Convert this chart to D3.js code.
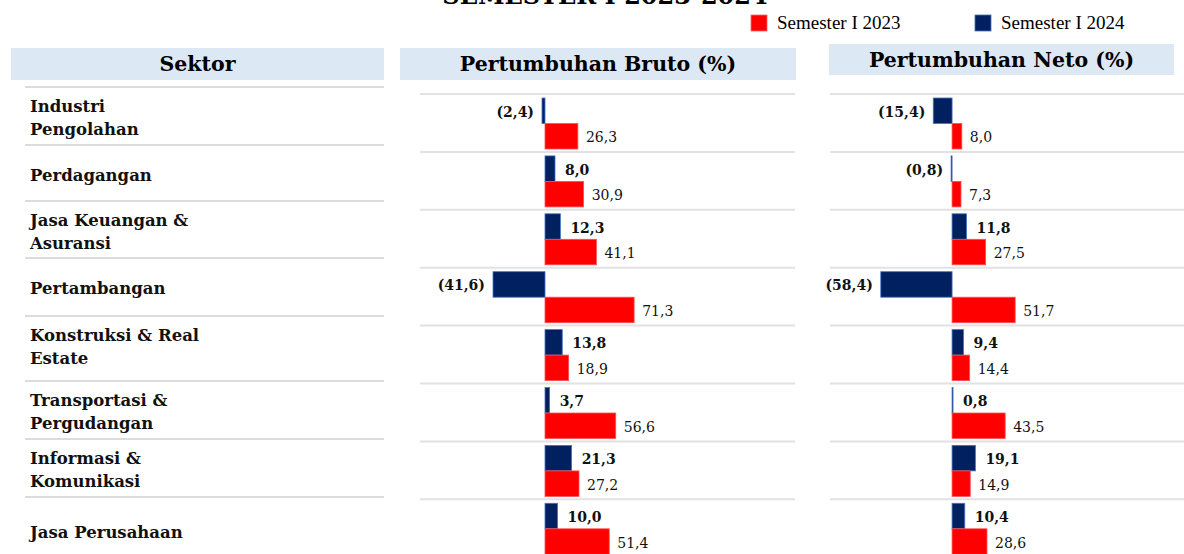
<!DOCTYPE html>
<html>
<head>
<meta charset="utf-8">
<script src="https://cdn.jsdelivr.net/npm/d3@7"></script>
<style>
  body { margin: 0; background: #fff; }
  svg { display: block; }
</style>
</head>
<body>
<svg></svg>
<script>
// data
const sectors = ["Industri Pengolahan", "Perdagangan", "Jasa Keuangan & Asuransi", "Pertambangan",
    "Konstruksi & Real Estate", "Transportasi & Pergudangan", "Informasi & Komunikasi", "Jasa Perusahaan"];
const sectorLabelLines = [["Industri", "Pengolahan"], ["Perdagangan"], ["Jasa Keuangan &", "Asuransi"], ["Pertambangan"],
    ["Konstruksi & Real", "Estate"], ["Transportasi &", "Pergudangan"], ["Informasi &", "Komunikasi"], ["Jasa Perusahaan"]];
const series = ["Semester I 2024", "Semester I 2023"];
const brutoS1_2023 = [26.3, 30.9, 41.1, 71.3, 18.9, 56.6, 27.2, 51.4];
const brutoS1_2024 = [-2.4, 8.0, 12.3, -41.6, 13.8, 3.7, 21.3, 10.0];
const netoS1_2023 = [8.0, 7.3, 27.5, 51.7, 14.4, 43.5, 14.9, 28.6];
const netoS1_2024 = [-15.4, -0.8, 11.8, -58.4, 9.4, 0.8, 19.1, 10.4];

const W = 1184, H = 554;
const RED = "#ff0000", NAVY = "#002060";
const serif = "Georgia, 'DejaVu Serif', serif";

const svg = d3.select("svg").attr("width", W).attr("height", H);

// judul (terpotong di atas)
svg.append("text")
    .attr("x", 605).attr("y", 4)
    .attr("text-anchor", "middle")
    .attr("font-family", serif).attr("font-weight", "bold").attr("font-size", 24)
    .text("SEMESTER I 2023-2024");

// legenda
const legend = [{ name: "Semester I 2023", color: RED, x: 751 }, { name: "Semester I 2024", color: NAVY, x: 975 }];
const lg = svg.selectAll("g.legend").data(legend).join("g")
    .attr("class", "legend")
    .attr("transform", d => `translate(${d.x},15)`);
lg.append("rect").attr("width", 16).attr("height", 16).attr("fill", d => d.color)
    .attr("stroke", d => d.color === NAVY ? "#4472c4" : "#ff6666").attr("stroke-width", 0.8);
lg.append("text").attr("x", 26).attr("y", 14)
    .attr("font-family", "'Liberation Serif', serif").attr("font-size", 19)
    .text(d => d.name);

// header
const headers = [
    { text: "Sektor", x: 11, y: 48, w: 373, h: 32 },
    { text: "Pertumbuhan Bruto (%)", x: 400, y: 48, w: 396, h: 32 },
    { text: "Pertumbuhan Neto (%)", x: 829, y: 44, w: 345, h: 31 }
];
const hg = svg.selectAll("g.header").data(headers).join("g").attr("class", "header");
hg.append("rect").attr("x", d => d.x).attr("y", d => d.y).attr("width", d => d.w).attr("height", d => d.h)
    .attr("fill", "#dde8f5");
hg.append("text")
    .attr("x", d => d.x + d.w / 2).attr("y", d => d.y + d.h / 2 + 7)
    .attr("text-anchor", "middle")
    .attr("font-family", serif).attr("font-weight", "bold").attr("font-size", 20.5)
    .text(d => d.text);

// tabel sektor di kiri
const tableLines = [87, 145, 201, 258, 316, 381, 439, 497];
svg.selectAll("line.tbl").data(tableLines).join("line")
    .attr("class", "tbl")
    .attr("x1", 25).attr("x2", 384)
    .attr("y1", d => d).attr("y2", d => d)
    .attr("stroke", "#d0d0d0").attr("stroke-width", 1.5);

const labels = svg.selectAll("text.sektor").data(sectorLabelLines).join("text")
    .attr("class", "sektor")
    .attr("font-family", serif).attr("font-weight", "bold").attr("font-size", 16.5)
    .attr("fill", "#111");
labels.selectAll("tspan").data((d, i) => d.map((t, j) => ({ t, j, i, n: d.length }))).join("tspan")
    .attr("x", 30)
    .attr("y", d => tableLines[d.i] + (d.n === 2 ? 25 + d.j * 23 : (d.i === 7 ? 41 : 36)))
    .text(d => d.t);

// format angka: koma desimal, negatif dalam kurung
const fmt = v => {
    const s = Math.abs(v).toFixed(1).replace(".", ",");
    return v < 0 ? `(${s})` : s;
};

// baris grafik
const y = d3.scaleBand().domain(sectors).range([94, 94 + 8 * 57.9]);
const ySub = d3.scaleBand().domain(series).range([4, 55]);

function drawPanel(cls, xScale, v2023, v2024) {
    const g = svg.append("g").attr("class", cls);
    const [x0, x1] = xScale.range();

    g.selectAll("line.sep").data(sectors).join("line")
        .attr("class", "sep")
        .attr("x1", x0).attr("x2", x1)
        .attr("y1", d => y(d)).attr("y2", d => y(d))
        .attr("stroke", "#e2e2e2").attr("stroke-width", 2);

    const rows = sectors.map((s, i) => [
        { sector: s, key: series[0], value: v2024[i], color: NAVY },
        { sector: s, key: series[1], value: v2023[i], color: RED }
    ]).flat();

    g.selectAll("rect.bar").data(rows).join("rect")
        .attr("class", "bar")
        .attr("x", d => xScale(Math.min(0, d.value)))
        .attr("y", d => y(d.sector) + ySub(d.key))
        .attr("width", d => Math.abs(xScale(d.value) - xScale(0)))
        .attr("height", ySub.bandwidth())
        .attr("fill", d => d.color)
        .attr("stroke", d => d.color === NAVY ? "#4472c4" : "#ff5050")
        .attr("stroke-width", 0.8);

    g.selectAll("text.val").data(rows).join("text")
        .attr("class", "val")
        .attr("x", d => d.value < 0 ? xScale(d.value) - 8 : xScale(d.value) + (d.color === NAVY ? 10 : 8))
        .attr("y", d => y(d.sector) + ySub(d.key) + ySub.bandwidth() / 2 + 6)
        .attr("text-anchor", d => d.value < 0 ? "end" : "start")
        .attr("font-family", serif)
        .attr("font-weight", d => d.color === NAVY ? "bold" : "normal")
        .attr("font-size", 14)
        .attr("fill", "#111")
        .text(d => fmt(d.value));
}

const xBruto = d3.scaleLinear().domain([-100, 200]).range([420, 795]);
const xNeto = d3.scaleLinear().domain([-100, 190]).range([830, 1184]);

drawPanel("bruto", xBruto, brutoS1_2023, brutoS1_2024);
drawPanel("neto", xNeto, netoS1_2023, netoS1_2024);
</script>
</body>
</html>
